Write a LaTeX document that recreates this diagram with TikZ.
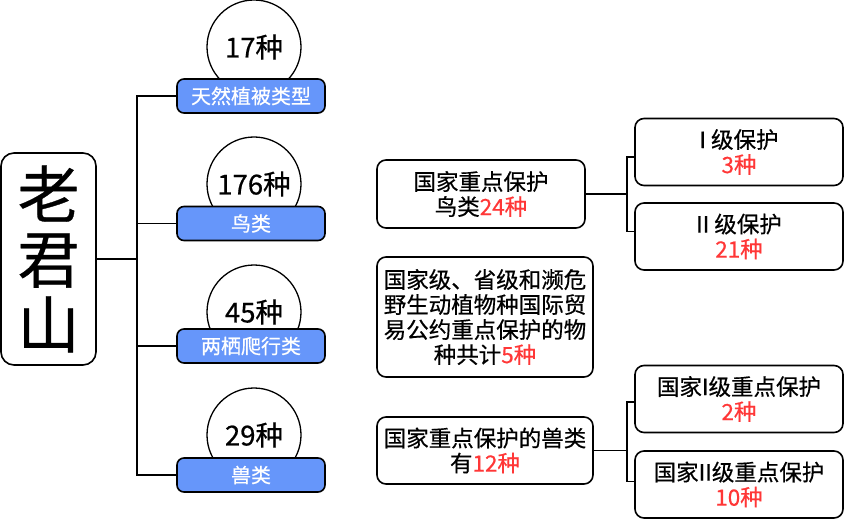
\documentclass[tikz,border=0pt]{standalone}
\usepackage{fontspec}
\setmainfont{Noto Sans CJK SC}[FakeBold=0.5]
\usetikzlibrary{positioning,calc}
\definecolor{tagblue}{RGB}{102,150,250}
\definecolor{numred}{RGB}{255,55,55}
\newcommand{\red}[1]{\textcolor{numred}{#1}}

\begin{document}
\begin{tikzpicture}[
  x=1pt, y=-1pt,
  line width=1.6pt,
  box/.style={draw, rounded corners=9pt, align=center, inner sep=0pt,
              font=\fontsize{22.5}{25}\selectfont},
  tag/.style={draw, fill=tagblue, rounded corners=7pt, text=white,
              minimum width=148pt, minimum height=34pt, inner sep=0pt,
              font=\fontsize{20}{20}\selectfont},
  count/.style={draw, circle, fill=white, line width=1.3pt,
                minimum size=94pt, inner sep=0pt,
                font=\fontsize{27.5}{30}\selectfont},
  tip/.style={box, minimum width=208pt, minimum height=67pt}
]
\useasboundingbox (0,0) rectangle (845,521);

% Title box on the left.
\node[box, rounded corners=13pt, minimum width=95pt, minimum height=212pt,
      font=\fontsize{62}{65}\selectfont] (main) at (48.5,259) {老\\君\\山};

% Count circles sit behind the blue tags.
\node[count] (cveg)   at (254,47)  {17种};
\node[count] (cbird)  at (254,184) {176种};
\node[count] (camph)  at (254,312) {45种};
\node[count] (cbeast) at (254,435) {29种};

% Blue tags.
\node[tag] (veg)   at (251,96)    {天然植被类型};
\node[tag] (bird)  at (251,223.5) {鸟类};
\node[tag] (amph)  at (251,346)   {两栖爬行类};
\node[tag] (beast) at (251,475)   {兽类};

% Trunk from the title to the tags.
\coordinate (trunk) at (137,259);
\draw (main.east) -- (trunk);
\draw (veg.west) -| (trunk) |- (beast.west);
\draw (bird.west) -- (bird.west -| trunk);
\draw (amph.west) -- (amph.west -| trunk);

% Protected species, middle column.
\node[box, minimum width=208pt, minimum height=68pt] (birdkey) at (481,194)
  {国家重点保护\\鸟类\red{24种}};
\node[box, minimum width=216pt, minimum height=120pt] (cites) at (485,317)
  {国家级、省级和濒危\\野生动植物种国际贸\\易公约重点保护的物\\种共计\red{5种}};
\node[box, minimum width=216pt, minimum height=67pt] (beastkey) at (485,450.5)
  {国家重点保护的兽类\\有\red{12种}};

% Protection levels, right column.
\node[tip] (birdI)   at (739,152)   {I 级保护\\\red{3种}};
\node[tip] (birdII)  at (739,236.5) {II 级保护\\\red{21种}};
\node[tip] (beastI)  at (739,399)   {国家I级重点保护\\\red{2种}};
\node[tip] (beastII) at (739,484.5) {国家II级重点保护\\\red{10种}};

% Brackets to the levels.
\coordinate (jbird)  at (627,194);
\coordinate (jbeast) at (627,450.5);
\draw (birdkey.east) -- (jbird);
\draw ([yshift=-5pt]birdI.west) -| (jbird) |- ([yshift=5pt]birdII.west);
\draw (beastkey.east) -- (jbeast);
\draw ([yshift=-3pt]beastI.west) -| (jbeast) |- ([yshift=3pt]beastII.west);
\end{tikzpicture}
\end{document}
